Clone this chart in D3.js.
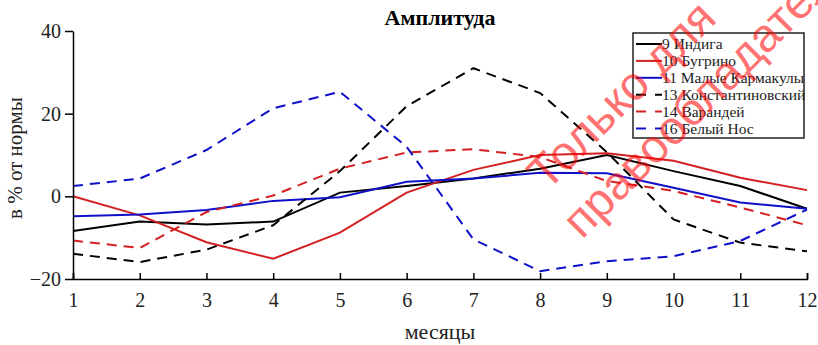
<!DOCTYPE html>
<html>
<head>
<meta charset="utf-8">
<script src="https://cdn.jsdelivr.net/npm/d3@7"></script>
<style>
  body { margin: 0; background: #fff; }
  svg { display: block; }
</style>
</head>
<body>
<div id="chart"></div>
<script>
// month numbers on x axis
const months = [1, 2, 3, 4, 5, 6, 7, 8, 9, 10, 11, 12];
const yTicks = [-20, 0, 20, 40];

// station names (legend)
const stationNames = ['9 Индига', '10 Бугрино', '11 Малые Кармакулы', '13 Константиновский', '14 Варандей', '16 Белый Нос'];

// amplitude anomalies, % of norm
const indiga = [-8.4, -6.1, -6.8, -6.1, 0.9, 2.5, 4.3, 6.7, 10.0, 6.1, 2.5, -3.0];
const bugrino = [0.0, -4.6, -11.1, -15.1, -8.8, 0.9, 6.4, 10.0, 10.4, 8.6, 4.5, 1.5];
const karmakuly = [-4.8, -4.4, -3.3, -1.1, -0.2, 3.5, 4.3, 5.7, 5.6, 2.1, -1.5, -3.0];
const konstantinovsky = [-13.9, -15.9, -12.9, -7.0, 6.1, 21.8, 31.0, 25.0, 10.7, -5.6, -11.2, -13.3];
const varandey = [-10.7, -12.5, -3.8, 0.2, 6.7, 10.6, 11.4, 9.5, 3.7, 1.3, -2.7, -7.0];
const belyNos = [2.5, 4.3, 11.2, 21.3, 25.3, 12.0, -10.4, -18.1, -15.7, -14.5, -10.8, -3.2];

const seriesValues = [indiga, bugrino, karmakuly, konstantinovsky, varandey, belyNos];
const seriesColors = ['#000000', '#d42020', '#1010c8', '#000000', '#d42020', '#1010c8'];
const seriesDashed = [false, false, false, true, true, true];

const serif = 'Liberation Serif';

const width = 818, height = 345;
const margin = { top: 31, right: 11, bottom: 66, left: 73 };

const svg = d3.select('#chart').append('svg')
  .attr('width', width)
  .attr('height', height);

const x = d3.scaleLinear().domain([1, 12]).range([margin.left, width - margin.right]);
const y = d3.scaleLinear().domain([-20, 40]).range([height - margin.bottom, margin.top]);

// lines
const line = d3.line()
  .x((d, i) => x(months[i]))
  .y(d => y(d));

seriesValues.forEach((vals, k) => {
  svg.append('path')
    .datum(vals)
    .attr('d', line)
    .attr('fill', 'none')
    .attr('stroke', seriesColors[k])
    .attr('stroke-width', 2)
    .attr('stroke-dasharray', seriesDashed[k] ? '10,7' : null);
});

// x axis (ticks pointing up, into the plot)
const xAxis = svg.append('g')
  .attr('transform', `translate(0, ${y(-20)})`)
  .call(d3.axisBottom(x).tickValues(months).tickSize(-6).tickPadding(14));
xAxis.select('.domain').attr('stroke-width', 1.5);
xAxis.selectAll('.tick line').attr('stroke-width', 1.5);
xAxis.selectAll('text')
  .style('font-family', serif)
  .style('font-size', '20px')
  .attr('fill', '#222');

// y axis
const yAxis = svg.append('g')
  .attr('transform', `translate(${x(1)}, 0)`)
  .call(d3.axisLeft(y).tickValues(yTicks).tickSize(8).tickPadding(4).tickSizeOuter(0));
yAxis.select('.domain').attr('stroke-width', 1.5);
yAxis.selectAll('.tick line').attr('stroke-width', 1.5);
yAxis.selectAll('text')
  .style('font-family', serif)
  .style('font-size', '20px')
  .attr('fill', '#222');

// title and axis labels
svg.append('text')
  .attr('x', 440).attr('y', 25)
  .attr('text-anchor', 'middle')
  .style('font-family', serif)
  .style('font-size', '22px')
  .style('font-weight', 'bold')
  .text('Амплитуда');

svg.append('text')
  .attr('x', 440).attr('y', 339)
  .attr('text-anchor', 'middle')
  .style('font-family', serif)
  .style('font-size', '22px')
  .attr('fill', '#222')
  .text('месяцы');

svg.append('text')
  .attr('transform', 'translate(22, 158) rotate(-90)')
  .attr('text-anchor', 'middle')
  .style('font-family', serif)
  .style('font-size', '21px')
  .attr('fill', '#222')
  .text('в % от нормы');

// legend
const legend = svg.append('g').attr('transform', 'translate(633, 33)');
legend.append('rect')
  .attr('width', 171).attr('height', 105)
  .attr('fill', '#fff')
  .attr('stroke', '#222')
  .attr('stroke-width', 1.5);

stationNames.forEach((name, k) => {
  const ry = 11 + k * 16.9;
  legend.append('line')
    .attr('x1', 3).attr('x2', 29)
    .attr('y1', ry).attr('y2', ry)
    .attr('stroke', seriesColors[k])
    .attr('stroke-width', 2)
    .attr('stroke-dasharray', seriesDashed[k] ? '10,9' : null);
  legend.append('text')
    .attr('x', 29).attr('y', ry + 5)
    .style('font-family', serif)
    .style('font-size', '15.5px')
    .attr('fill', '#222')
    .text(name);
});

// watermark on top
const wm = svg.append('g')
  .attr('fill', '#ff0000')
  .attr('opacity', 0.55);
wm.append('text')
  .attr('transform', 'translate(547, 192) rotate(-45)')
  .style('font-family', 'Liberation Sans')
  .style('font-size', '47px')
  .text('Только для');
wm.append('text')
  .attr('transform', 'translate(582, 240) rotate(-45)')
  .style('font-family', 'Liberation Sans')
  .style('font-size', '47px')
  .text('правообладателя');
</script>
</body>
</html>
